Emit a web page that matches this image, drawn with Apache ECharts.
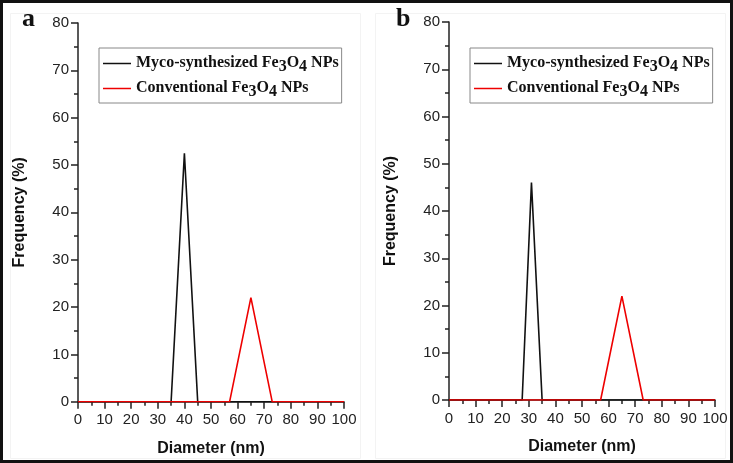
<!DOCTYPE html>
<html>
<head>
<meta charset="utf-8">
<script src="https://cdn.jsdelivr.net/npm/echarts@6/dist/echarts.min.js"></script>
<style>
html,body{margin:0;padding:0;background:#fff;}
#c{width:733px;height:463px;}
</style>
</head>
<body>
<div id="c"></div>
<script>
// ---- data ----
var seriesNames = ['Myco-synthesized Fe3O4 NPs', 'Conventional Fe3O4 NPs'];
var panelLabels = ['a', 'b'];
var xTicks = [0, 10, 20, 30, 40, 50, 60, 70, 80, 90, 100];
var yTicks = [0, 10, 20, 30, 40, 50, 60, 70, 80];

var aMycoDiameter = [0, 35, 40, 45, 100];
var aMycoFreq     = [0, 0, 52.5, 0, 0];
var aConvDiameter = [0, 57, 65, 73, 100];
var aConvFreq     = [0, 0, 22, 0, 0];

var bMycoDiameter = [0, 27.5, 31, 35, 100];
var bMycoFreq     = [0, 0, 46, 0, 0];
var bConvDiameter = [0, 57, 65, 73, 100];
var bConvFreq     = [0, 0, 22, 0, 0];

function pairs(xs, ys){ return xs.map(function(x,i){ return [x, ys[i]]; }); }

var chart = echarts.init(document.getElementById('c'), null, {renderer:'canvas'});

var axisCol = '#222';
var sans = 'Liberation Sans, Arial, sans-serif';
var serif = 'Liberation Serif, Times New Roman, serif';

function xAxis(idx){
  return {
    type:'value', gridIndex: idx, min: xTicks[0], max: xTicks[xTicks.length-1], interval: 10,
    name:'Diameter (nm)', nameLocation:'middle', nameGap: 39,
    nameTextStyle:{fontFamily:sans, fontWeight:'bold', fontSize:16, color:'#111'},
    axisLine:{show:true, onZero:false, lineStyle:{color:axisCol, width:1.5}},
    axisTick:{show:true, inside:false, length:7, lineStyle:{color:axisCol, width:1.5}},
    minorTick:{show:true, splitNumber:2, length:4, lineStyle:{color:axisCol, width:1.5}},
    axisLabel:{fontFamily:sans, fontSize:15, color:'#222', margin:11},
    splitLine:{show:false}
  };
}
function yAxis(idx){
  return {
    type:'value', gridIndex: idx, min: yTicks[0], max: yTicks[yTicks.length-1], interval: 10,
    name:'Frequency (%)', nameLocation:'middle', nameGap: 50,
    nameTextStyle:{fontFamily:sans, fontWeight:'bold', fontSize:16, color:'#111'},
    axisLine:{show:true, onZero:false, lineStyle:{color:axisCol, width:1.5}},
    axisTick:{show:true, inside:false, length:7, lineStyle:{color:axisCol, width:1.5}},
    minorTick:{show:true, splitNumber:2, length:4, lineStyle:{color:axisCol, width:1.5}},
    axisLabel:{fontFamily:sans, fontSize:15, color:'#222', margin:9},
    splitLine:{show:false}
  };
}
function legend(left){
  return {
    left:left, top:48, orient:'vertical',
    data: seriesNames,
    icon:'rect', itemWidth:28, itemHeight:1.5, itemGap:5,
    padding:[7,3,3,4],
    borderColor:'#888', borderWidth:1,
    selectedMode:false,
    formatter:function(name){
      return '{n|' + name.replace('Fe3O4', 'Fe}{s|3}{n|O}{s|4}{n|') + '}';
    },
    textStyle:{
      fontFamily:serif, fontWeight:'bold', fontSize:16, color:'#111',
      rich:{
        n:{fontFamily:serif, fontWeight:'bold', fontSize:16, color:'#111', lineHeight:17, verticalAlign:'top'},
        s:{fontFamily:serif, fontWeight:'bold', fontSize:16, color:'#111', lineHeight:17, verticalAlign:'top', padding:[4,0,0,0]}
      }
    }
  };
}
function line(name, data, color, xi){
  return {
    type:'line', name:name, xAxisIndex:xi, yAxisIndex:xi, data:data,
    symbol:'none', animation:false, silent:true,
    lineStyle:{color:color, width:1.6}, itemStyle:{color:color}
  };
}

var option = {
  animation:false,
  backgroundColor:'#fff',
  title:[
    {text:panelLabels[0], left:17, top:1, textStyle:{fontFamily:serif, fontWeight:'bold', fontSize:26, color:'#111'}},
    {text:panelLabels[1], left:391, top:1, textStyle:{fontFamily:serif, fontWeight:'bold', fontSize:26, color:'#111'}}
  ],
  grid:[
    {left:78, top:23, width:266, height:378.7, containLabel:false},
    {left:449, top:22, width:266, height:378, containLabel:false}
  ],
  xAxis:[xAxis(0), xAxis(1)],
  yAxis:[yAxis(0), yAxis(1)],
  legend:[legend(99), legend(470)],
  series:[
    line(seriesNames[0], pairs(aMycoDiameter, aMycoFreq), '#111', 0),
    line(seriesNames[1], pairs(aConvDiameter, aConvFreq), '#ee0000', 0),
    line(seriesNames[0], pairs(bMycoDiameter, bMycoFreq), '#111', 1),
    line(seriesNames[1], pairs(bConvDiameter, bConvFreq), '#ee0000', 1)
  ],
  graphic:[
    {type:'rect', shape:{x:10.5, y:13.5, width:350, height:445}, style:{fill:'none', stroke:'#f3f3f3', lineWidth:1}, silent:true, z:-1},
    {type:'rect', shape:{x:375.5, y:13.5, width:350, height:445}, style:{fill:'none', stroke:'#f3f3f3', lineWidth:1}, silent:true, z:-1},
    {type:'rect', shape:{x:1.5, y:1.5, width:730, height:460}, style:{fill:'none', stroke:'#111', lineWidth:3}, silent:true, z:10}
  ]
};
chart.setOption(option);
</script>
</body>
</html>
